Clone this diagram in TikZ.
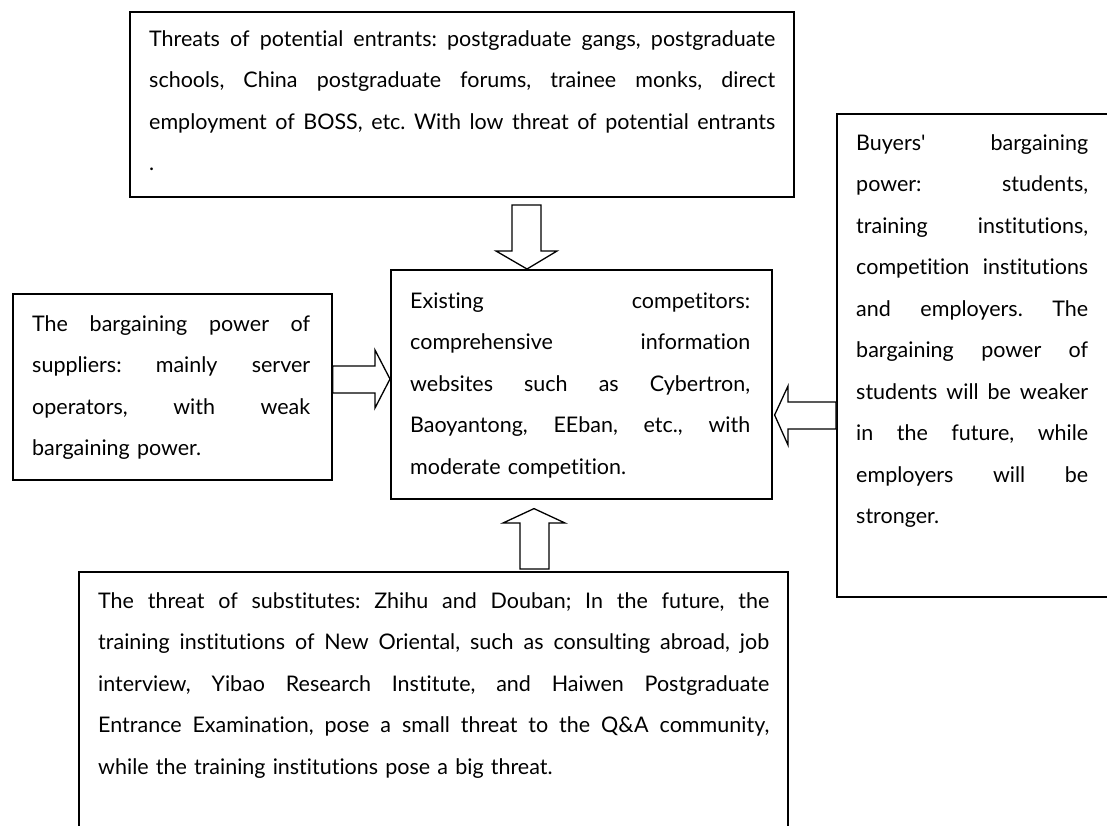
\documentclass[tikz,border=0pt]{standalone}
\usepackage{fontspec}
\newfontfamily\bodyfont[Ligatures={NoCommon,NoContextual}]{Lato}
\setlength{\parindent}{0pt}
\newcommand{\jl}[1]{\leavevmode\hbox to \hsize{\frenchspacing\spaceskip=\fontdimen2\font plus 1fil minus 0.35\fontdimen2\font\relax #1}}
\newcommand{\fst}{\rule{0pt}{20pt}}
\begin{document}
\begin{tikzpicture}[x=1pt,y=-1pt]
\tikzset{
  box/.style={draw, line width=1.6pt, inner sep=0pt, anchor=north west},
  txt/.style={inner sep=0pt, anchor=north west, align=left,
     font=\bodyfont\frenchspacing\fontsize{21.5}{41.5}\selectfont},
  barrow/.style={draw, line width=1.3pt, fill=white, line join=miter}
}
\useasboundingbox (0,0) rectangle (1107,825);

% boxes
\node[box, minimum width=664pt, minimum height=185pt] (entr) at (129,11) {};
\node[box, minimum width=319pt, minimum height=186pt] (supp) at (12,293) {};
\node[box, minimum width=381pt, minimum height=229pt] (comp) at (390,269) {};
\node[box, minimum width=280pt, minimum height=483pt] (buy) at (836,113) {};
\node[box, minimum width=709pt, minimum height=265pt] (subs) at (78,571) {};

% texts
\node[txt, text width=626pt] (entrT) at (149,26) {\fst\jl{Threats of potential entrants: postgraduate gangs, postgraduate}\\
\jl{schools, China postgraduate forums, trainee monks, direct}\\
\jl{employment of BOSS, etc. With low threat of potential entrants}\\
.};

\node[txt, text width=278pt] (suppT) at (32,311) {\fst\jl{The bargaining power of}\\
\jl{suppliers: mainly server}\\
\jl{operators, with weak}\\
bargaining power.};

\node[txt, text width=340pt] (compT) at (410,288) {\fst\jl{Existing competitors:}\\
\jl{comprehensive information}\\
\jl{websites such as Cybertron,}\\
\jl{Baoyantong, EEban, etc., with}\\
moderate competition.};

\node[txt, text width=232pt] (buyT) at (856,130) {\fst\jl{Buyers' bargaining}\\
\jl{power: students,}\\
\jl{training institutions,}\\
\jl{competition institutions}\\
\jl{and employers. The}\\
\jl{bargaining power of}\\
\jl{students will be weaker}\\
\jl{in the future, while}\\
\jl{employers will be}\\
stronger.};

\node[txt, text width=671pt] (subsT) at (98,588) {\fst\jl{The threat of substitutes: Zhihu and Douban; In the future, the}\\
\jl{training institutions of New Oriental, such as consulting abroad, job}\\
\jl{interview, Yibao Research Institute, and Haiwen Postgraduate}\\
\jl{Entrance Examination, pose a small threat to the Q\&A community,}\\
while the training institutions pose a big threat.};

% block arrows
\coordinate (t1) at (comp.north -| 527,0);
\draw[barrow] (512,205) -- (541,205) -- (541,251) -- (557,251) -- (t1) -- (496,251) -- (512,251) -- cycle;
\coordinate (t2) at (comp.west |- 0,379);
\draw[barrow] (supp.east |- 0,366) -- (375,366) -- (375,350) -- (t2) -- (375,408) -- (375,393) -- (supp.east |- 0,393) -- cycle;
\coordinate (t3) at ([xshift=2pt]comp.east |- 0,415);
\draw[barrow] (buy.west |- 0,402) -- (788,402) -- (788,386) -- (t3) -- (788,445) -- (788,429) -- (buy.west |- 0,429) -- cycle;
\coordinate (t4) at ([yshift=-9pt]comp.south -| 534,0);
\draw[barrow] (520,569) -- (520,523) -- (503,523) -- (t4) -- (565,523) -- (549,523) -- (549,569) -- cycle;
\end{tikzpicture}
\end{document}
